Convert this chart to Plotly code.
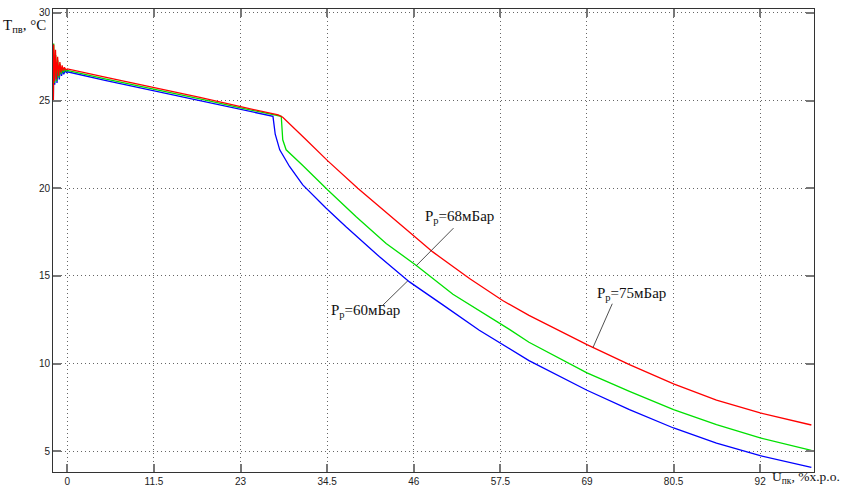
import numpy as np
import plotly.graph_objects as go

# ---- data ----
red_x = [-1.86, -1.82, -1.72, -1.58, -1.45, -1.3, -1.15, -1.0, -0.85, -0.7, -0.55, -0.4, -0.2, 0.0,
         5.0, 11.5, 17.6, 23.0, 26.9, 28.0, 28.6, 29.96, 31.5, 34.58, 38.56, 45.87, 48.52, 53.4, 57.8, 61.3,
         64.0, 69.0, 74.64, 80.5, 86.2, 92.0, 98.8]
red_y = [25.0, 28.2, 26.1, 27.9, 26.2, 27.5, 26.4, 27.2, 26.6, 27.0, 26.7, 26.9, 26.75, 26.8,
         26.33, 25.75, 25.18, 24.65, 24.25, 24.18, 24.05, 23.5, 22.85, 21.56, 20.0, 17.33, 16.37, 14.85, 13.6, 12.75,
         12.17, 11.08, 9.94, 8.85, 7.92, 7.19, 6.5]

green_x = [-1.86, -1.82, -1.7, -1.55, -1.42, -1.28, -1.12, -0.98, -0.82, -0.68, -0.52, -0.35, -0.15, 0.0,
           5.0, 11.5, 17.6, 23.0, 27.5, 28.4, 28.6, 29.05, 31.26, 34.58, 38.35, 42.33, 46.3, 51.2, 58.7,
           61.3, 69.0, 74.64, 80.5, 86.2, 92.0, 98.8]
green_y = [25.2, 28.25, 26.0, 27.6, 26.1, 27.3, 26.3, 27.1, 26.5, 26.9, 26.6, 26.8, 26.68, 26.72,
           26.24, 25.66, 25.09, 24.58, 24.18, 24.1, 22.76, 22.19, 21.3, 19.9, 18.38, 16.85, 15.61, 13.95, 11.95,
           11.22, 9.47, 8.42, 7.38, 6.52, 5.76, 5.05]

blue_x = [-1.86, -1.82, -1.68, -1.52, -1.38, -1.22, -1.08, -0.92, -0.78, -0.62, -0.48, -0.3, -0.1, 0.0,
          5.0, 11.5, 17.6, 23.0, 27.0, 27.3, 27.6, 28.2, 29.5, 31.26, 34.37, 37.0, 41.45, 45.43, 49.86,
          54.7, 61.3, 69.0, 74.64, 80.5, 86.2, 92.0, 98.8]
blue_y = [25.0, 27.6, 25.9, 27.2, 26.0, 27.0, 26.2, 26.9, 26.4, 26.75, 26.5, 26.7, 26.6, 26.64,
          26.15, 25.56, 24.99, 24.48, 24.15, 24.1, 23.08, 22.19, 21.24, 20.19, 18.86, 17.8, 16.09, 14.66, 13.35,
          11.9, 10.17, 8.48, 7.38, 6.33, 5.47, 4.75, 4.08]

x_ticks = [0, 11.5, 23, 34.5, 46, 57.5, 69, 80.5, 92]
x_tick_labels = ["0", "11.5", "23", "34.5", "46", "57.5", "69", "80.5", "92"]
y_ticks = [5, 10, 15, 20, 25, 30]
y_tick_labels = ["5", "10", "15", "20", "25", "30"]

label_60 = "P<sub>р</sub>=60мБар"
label_68 = "P<sub>р</sub>=68мБар"
label_75 = "P<sub>р</sub>=75мБар"
y_title = "T<sub>пв</sub>, °C"
x_title = "U<sub>пк</sub>, %х.р.о."

fig = go.Figure()
for xs, ys, col, name in [(blue_x, blue_y, "#0000ff", "60"),
                          (green_x, green_y, "#00e000", "68"),
                          (red_x, red_y, "#ff0000", "75")]:
    fig.add_trace(go.Scatter(x=xs, y=ys, mode="lines", line=dict(color=col, width=1.3),
                             showlegend=False, name=name))

serif = "Liberation Serif, Times New Roman, serif"
ann = []

def leader(xs, ys, tx, sx, sy):
    ty = float(np.interp(tx, xs, ys))
    return dict(x=tx, y=ty, ax=sx, ay=sy, xref="x", yref="y", axref="x", ayref="y",
                text="", showarrow=True, arrowhead=0, arrowwidth=0.8, arrowcolor="#222",
                standoff=0, startstandoff=0)

ann.append(leader(green_x, green_y, 46.35, 51.47, 17.81))
ann.append(leader(blue_x, blue_y, 45.23, 41.7, 13.25))
ann.append(leader(red_x, red_y, 69.8, 72.45, 13.5))

for txt, x, y in [(label_68, 52.03, 18.35), (label_60, 39.6, 13.0), (label_75, 74.9, 13.95)]:
    ann.append(dict(x=x, y=y, xref="x", yref="y", text=txt, showarrow=False,
                    font=dict(family=serif, size=15, color="#111"),
                    xanchor="center", yanchor="middle"))

ann.append(dict(x=-0.006, y=0.963, xref="paper", yref="paper", text=y_title, showarrow=False,
                font=dict(family=serif, size=15, color="#111"), xanchor="right", yanchor="middle"))
ann.append(dict(x=0.942, y=-0.011, xref="paper", yref="paper", text=x_title, showarrow=False,
                font=dict(family=serif, size=13.5, color="#111"), xanchor="left", yanchor="middle"))

axis_common = dict(showline=True, linecolor="#333", linewidth=1, mirror="ticks",
                   ticks="inside", ticklen=8, tickwidth=2, tickcolor="#777",
                   showgrid=True, gridcolor="#666", gridwidth=1, griddash="1px,3px",
                   zeroline=False, automargin=False,
                   tickfont=dict(family="Liberation Sans, Arial, sans-serif", size=10, color="#222"))

fig.update_layout(
    width=846, height=488,
    margin=dict(l=53, r=32, t=9, b=16),
    paper_bgcolor="white", plot_bgcolor="white",
    xaxis=dict(range=[-1.91, 99.15], tickvals=x_ticks, ticktext=x_tick_labels, **axis_common),
    yaxis=dict(range=[3.82, 30.22], tickvals=y_ticks, ticktext=y_tick_labels, **axis_common),
    annotations=ann,
)

fig.write_html("out.html", config={"displayModeBar": False},
               post_script="document.body.style.margin='0';document.body.style.overflow='hidden';")
